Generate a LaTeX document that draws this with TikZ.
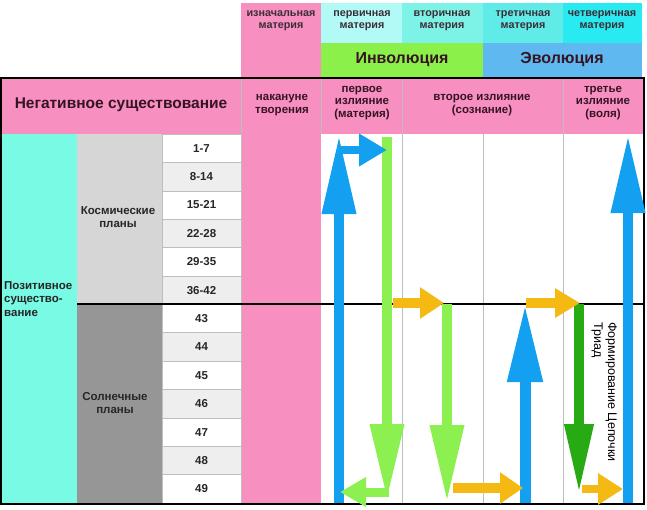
\documentclass[tikz,border=0pt]{standalone}
\usepackage{fontspec}
\setmainfont{Liberation Sans}
\usetikzlibrary{arrows.meta}
\definecolor{pinkc}{RGB}{247,143,192}
\definecolor{cyanL}{RGB}{120,250,228}
\definecolor{mA}{RGB}{178,250,245}
\definecolor{mB}{RGB}{125,242,230}
\definecolor{mC}{RGB}{95,236,232}
\definecolor{mD}{RGB}{40,234,240}
\definecolor{invg}{RGB}{140,240,75}
\definecolor{evob}{RGB}{95,185,240}
\definecolor{greyL}{RGB}{214,214,214}
\definecolor{greyD}{RGB}{150,150,150}
\definecolor{rowg}{RGB}{238,238,238}
\definecolor{arrB}{RGB}{20,160,240}
\definecolor{arrG}{RGB}{140,240,80}
\definecolor{arrO}{RGB}{245,185,20}
\definecolor{arrD}{RGB}{40,170,20}
\definecolor{hdtxt}{RGB}{55,20,35}
\definecolor{toptxt}{RGB}{60,45,55}
\definecolor{sepc}{RGB}{190,190,190}
\tikzset{
  lbl/.style={inner sep=0pt, align=center, font=\bfseries\fontsize{11.5}{12.5}\selectfont, text=hdtxt},
  toplbl/.style={inner sep=0pt, align=center, font=\bfseries\fontsize{10.8}{12}\selectfont, text=toptxt},
  biglbl/.style={inner sep=0pt, align=center, font=\bfseries\fontsize{16}{18}\selectfont, text=hdtxt},
  numtxt/.style={inner sep=0pt, font=\bfseries\fontsize{11.5}{13}\selectfont, text=black!85},
  sideLbl/.style={inner sep=0pt, align=left, font=\bfseries\fontsize{11.5}{13.5}\selectfont, text=black!85},
  planLbl/.style={inner sep=0pt, align=center, font=\bfseries\fontsize{11.5}{13}\selectfont, text=black!85},
  fat/.style n args={4}{draw=#1, line width=#2, -{Triangle[length=#3, width=#4]}},
  sepline/.style={draw=sepc, line width=0.7pt},
  border/.style={draw=black, line width=2.2pt}
}
\begin{document}
\begin{tikzpicture}[x=1pt,y=-1pt]
\useasboundingbox (0,0) rectangle (647,509);
% top header cells
\fill[pinkc] (241,3) rectangle (321,77);
\fill[mA] (321,3) rectangle (402,43);
\fill[mB] (402,3) rectangle (483,43);
\fill[mC] (483,3) rectangle (563,43);
\fill[mD] (563,3) rectangle (642,43);
\fill[invg] (321,43) rectangle (483,77);
\fill[evob] (483,43) rectangle (642,77);
\node[toplbl] (t0) at (281,21) {изначальная\\материя};
\node[toplbl] (t1) at (362,21) {первичная\\материя};
\node[toplbl] (t2) at (442,21) {вторичная\\материя};
\node[toplbl] (t3) at (523,21) {третичная\\материя};
\node[toplbl] (t4) at (602,21) {четверичная\\материя};
\node[biglbl] (inv) at (402,60) {Инволюция};
\node[biglbl] (evo) at (562,60) {Эволюция};
% second header row
\fill[pinkc] (1,78) rectangle (644,134);
\foreach \xx in {241,321,402,563}{\draw[sepline] (\xx,78) -- (\xx,134);}
\node[inner sep=0pt, font=\bfseries\fontsize{15.5}{18}\selectfont, text=hdtxt] (neg) at (121,105) {Негативное существование};
\node[lbl] (h1) at (282,105) {накануне\\творения};
\node[lbl] (h2) at (362,103) {первое\\излияние\\(материя)};
\node[lbl] (h3) at (482,105) {второе излияние\\(сознание)};
\node[lbl] (h4) at (603,103) {третье\\излияние\\(воля)};
% body left columns
\fill[cyanL] (1,134) rectangle (77,504);
\fill[greyL] (77,134) rectangle (162,304.3);
\fill[greyD] (77,304.3) rectangle (162,504);
\fill[pinkc] (241,134) rectangle (321,504);
\node[sideLbl, anchor=west] (pos) at (4,299) {Позитивное\\существо-\\вание};
\node[planLbl] (kos) at (118,217) {Космические\\планы};
\node[planLbl] (sol) at (115,403) {Солнечные\\планы};
\foreach \lab [count=\i from 0] in {1-7,8-14,15-21,22-28,29-35,36-42,43,44,45,46,47,48,49}{
  \pgfmathsetmacro\yt{134+\i*28.385}
  \pgfmathsetmacro\yb{\yt+28.385}
  \ifodd\i \def\rc{rowg}\else\def\rc{white}\fi
  \filldraw[fill=\rc, draw=sepc, line width=0.5pt] (162,\yt) rectangle (241,\yb);
  \node[numtxt] (n\i) at (201.5,{(\yt+\yb)/2}) {\lab};
}
% body grid lines
\foreach \xx in {402,483,563}{\draw[sepline] (\xx,134) -- (\xx,504);}
% borders
\draw[border] (0,78) -- (645,78);
\draw[border] (1,78) -- (1,504);
\draw[border] (644,78) -- (644,504);
\draw[border] (0,504) -- (645,504);
\draw[border] (77,304.3) -- (644,304.3);
% arrow coordinates
\coordinate (b1s) at (339,503); \coordinate (b1e) at (339,135);
\coordinate (bhs) at (339,150); \coordinate (bhe) at (387,150);
\coordinate (g1s) at (387,137); \coordinate (g1e) at (387,500);
\coordinate (ghs) at (389,492); \coordinate (ghe) at (340,492);
\coordinate (o1s) at (393,303); \coordinate (o1e) at (444,303);
\coordinate (g2s) at (447,304); \coordinate (g2e) at (447,502);
\coordinate (o2s) at (453,488); \coordinate (o2e) at (523,488);
\coordinate (b2s) at (525,503); \coordinate (b2e) at (525,304);
\coordinate (o3s) at (526,303); \coordinate (o3e) at (580,303);
\coordinate (dgs) at (579,304); \coordinate (dge) at (579,494);
\coordinate (o4s) at (582,489); \coordinate (o4e) at (623,489);
\coordinate (b3s) at (628,503); \coordinate (b3e) at (628,135);
% vertical arrows
\draw[fat={arrG}{10pt}{76pt}{32pt}] (g1s) -- (g1e);
\draw[fat={arrG}{10pt}{77pt}{32pt}] (g2s) -- (g2e);
\draw[fat={arrD}{10pt}{70pt}{27pt}] (dgs) -- (dge);
\draw[fat={arrB}{10pt}{79pt}{32pt}] (b1s) -- (b1e);
\draw[fat={arrB}{11pt}{78pt}{33pt}] (b2s) -- (b2e);
\draw[fat={arrB}{10pt}{78pt}{32pt}] (b3s) -- (b3e);
% horizontal arrows
\draw[fat={arrB}{8pt}{28pt}{31pt}] (bhs) -- (bhe);
\draw[fat={arrG}{9pt}{26pt}{28pt}] (ghs) -- (ghe);
\draw[fat={arrO}{10pt}{24pt}{30pt}] (o1s) -- (o1e);
\draw[fat={arrO}{10pt}{23pt}{30pt}] (o2s) -- (o2e);
\draw[fat={arrO}{10pt}{25pt}{28pt}] (o3s) -- (o3e);
\draw[fat={arrO}{8pt}{25pt}{30pt}] (o4s) -- (o4e);
% rotated label
\node[inner sep=0pt, anchor=north west, rotate=-90, align=left, font=\fontsize{12.5}{14}\selectfont] (triad) at (617,322) {Формирование Цепочки\\Триад};
\end{tikzpicture}
\end{document}
